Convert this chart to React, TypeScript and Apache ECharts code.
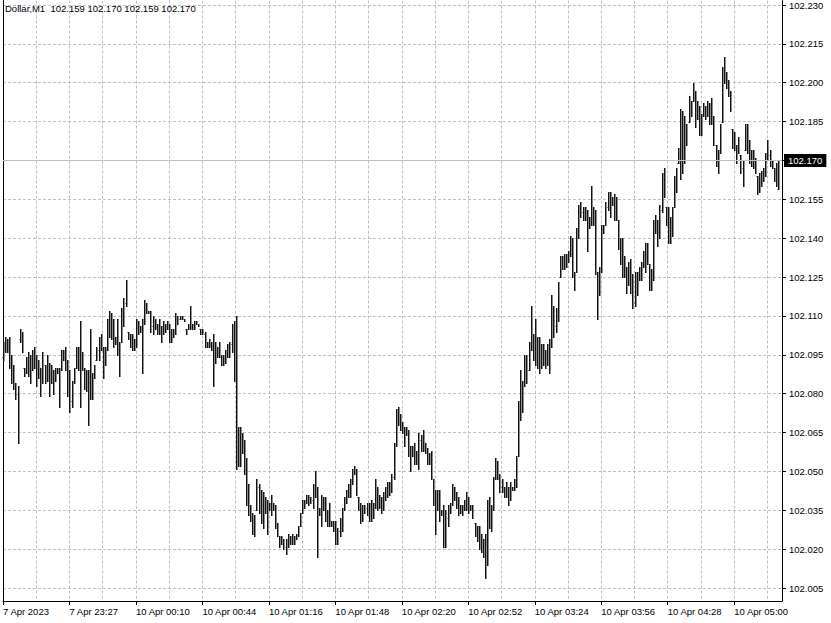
import React, { useEffect, useRef } from "react";
import * as echarts from "echarts";

const symbolName = "Dollar";
const timeframe = "M1";

// time labels placed every 32 one-minute bars
const timeLabels = [
  "7 Apr 2023", "7 Apr 23:27", "10 Apr 00:10", "10 Apr 00:44", "10 Apr 01:16", "10 Apr 01:48",
  "10 Apr 02:20", "10 Apr 02:52", "10 Apr 03:24", "10 Apr 03:56", "10 Apr 04:28", "10 Apr 05:00",
];
const barsPerLabel = 32;
const barsPerGridLine = 16;
const slotCount = 376; // bar slots on the time axis (incl. empty shift on the right)

const priceTicks = [
  102.005, 102.02, 102.035, 102.05, 102.065, 102.08, 102.095, 102.11,
  102.125, 102.14, 102.155, 102.17, 102.185, 102.2, 102.215, 102.23,
];
const priceMin = 102.0;
const priceMax = 102.2317;

// [open, high, low, close]
const ohlc: number[][] = [
  [102.094,102.100,102.093,102.099],[102.099,102.102,102.096,102.097],[102.097,102.101,102.096,102.100],[102.100,102.102,102.090,102.091],
  [102.091,102.095,102.084,102.085],[102.085,102.091,102.082,102.083],[102.083,102.084,102.078,102.080],[102.080,102.083,102.061,102.082],
  [102.101,102.105,102.100,102.103],[102.103,102.104,102.096,102.097],[102.090,102.090,102.087,102.088],[102.088,102.094,102.088,102.093],
  [102.093,102.096,102.087,102.088],[102.088,102.095,102.084,102.094],[102.094,102.097,102.089,102.096],[102.096,102.098,102.090,102.091],
  [102.091,102.095,102.083,102.085],[102.086,102.093,102.086,102.089],[102.089,102.090,102.079,102.080],[102.084,102.096,102.084,102.094],
  [102.091,102.091,102.084,102.086],[102.086,102.095,102.085,102.093],[102.092,102.092,102.079,102.081],[102.084,102.091,102.084,102.089],
  [102.089,102.089,102.080,102.082],[102.085,102.090,102.085,102.089],[102.089,102.090,102.088,102.088],[102.088,102.090,102.075,102.087],
  [102.089,102.097,102.089,102.096],[102.096,102.097,102.093,102.094],[102.094,102.098,102.089,102.091],[102.091,102.093,102.079,102.081],
  [102.081,102.089,102.073,102.077],[102.077,102.085,102.075,102.084],[102.084,102.090,102.084,102.089],[102.090,102.098,102.090,102.097],
  [102.097,102.098,102.089,102.092],[102.092,102.108,102.075,102.094],[102.094,102.096,102.089,102.090],[102.090,102.090,102.082,102.084],
  [102.084,102.089,102.081,102.087],[102.087,102.089,102.068,102.078],[102.078,102.105,102.078,102.086],[102.086,102.088,102.078,102.087],
  [102.087,102.091,102.086,102.090],[102.093,102.098,102.093,102.097],[102.097,102.102,102.093,102.100],[102.100,102.103,102.097,102.098],
  [102.098,102.098,102.086,102.089],[102.091,102.098,102.091,102.097],[102.097,102.109,102.097,102.107],[102.107,102.112,102.102,102.104],
  [102.104,102.111,102.101,102.108],[102.108,102.109,102.098,102.100],[102.100,102.102,102.099,102.101],[102.101,102.109,102.095,102.097],
  [102.097,102.100,102.087,102.099],[102.100,102.113,102.100,102.111],[102.111,102.117,102.106,102.115],[102.115,102.124,102.114,102.114],
  [102.104,102.104,102.101,102.102],[102.102,102.103,102.098,102.099],[102.099,102.103,102.097,102.101],[102.101,102.101,102.097,102.098],
  [102.098,102.109,102.098,102.107],[102.107,102.108,102.103,102.104],[102.104,102.106,102.104,102.105],[102.105,102.109,102.088,102.107],
  [102.107,102.116,102.107,102.114],[102.114,102.115,102.111,102.112],[102.112,102.112,102.111,102.111],[102.111,102.112,102.104,102.106],
  [102.106,102.110,102.103,102.108],[102.108,102.109,102.105,102.106],[102.106,102.107,102.103,102.104],[102.104,102.109,102.103,102.107],
  [102.106,102.106,102.100,102.102],[102.103,102.108,102.103,102.107],[102.107,102.107,102.104,102.105],[102.105,102.108,102.105,102.107],
  [102.107,102.107,102.100,102.101],[102.101,102.105,102.100,102.104],[102.104,102.105,102.102,102.103],[102.103,102.111,102.103,102.109],
  [102.109,102.110,102.107,102.109],[102.109,102.110,102.109,102.110],[102.110,102.110,102.109,102.109],[102.109,102.109,102.108,102.108],
  [102.105,102.105,102.103,102.104],[102.105,102.107,102.105,102.106],[102.106,102.114,102.105,102.107],[102.107,102.107,102.105,102.106],
  [102.106,102.108,102.105,102.107],[102.107,102.108,102.107,102.108],[102.107,102.107,102.106,102.106],[102.105,102.105,102.103,102.104],
  [102.104,102.105,102.103,102.103],[102.103,102.104,102.098,102.099],[102.099,102.100,102.098,102.099],[102.099,102.101,102.098,102.100],
  [102.100,102.100,102.097,102.098],[102.098,102.103,102.083,102.096],[102.096,102.100,102.092,102.094],[102.094,102.098,102.094,102.097],
  [102.097,102.100,102.094,102.095],[102.095,102.095,102.091,102.092],[102.092,102.095,102.091,102.094],[102.094,102.097,102.092,102.096],
  [102.096,102.099,102.094,102.098],[102.098,102.100,102.094,102.099],[102.099,102.107,102.096,102.105],[102.105,102.108,102.085,102.107],
  [102.107,102.110,102.051,102.055],[102.055,102.067,102.052,102.064],[102.064,102.067,102.052,102.060],[102.060,102.065,102.057,102.058],
  [102.058,102.062,102.049,102.051],[102.051,102.055,102.037,102.040],[102.040,102.045,102.033,102.035],[102.035,102.037,102.031,102.032],
  [102.032,102.034,102.026,102.028],[102.028,102.033,102.025,102.031],[102.035,102.047,102.035,102.044],[102.044,102.045,102.034,102.037],
  [102.037,102.043,102.030,102.039],[102.039,102.042,102.028,102.033],[102.034,102.040,102.034,102.038],[102.038,102.039,102.026,102.035],
  [102.035,102.038,102.035,102.037],[102.037,102.041,102.033,102.036],[102.036,102.038,102.035,102.037],[102.037,102.037,102.028,102.030],
  [102.030,102.030,102.025,102.026],[102.025,102.025,102.021,102.023],[102.023,102.025,102.022,102.024],[102.024,102.024,102.020,102.021],
  [102.021,102.024,102.018,102.022],[102.022,102.026,102.021,102.025],[102.025,102.025,102.022,102.023],[102.023,102.026,102.022,102.025],
  [102.025,102.025,102.022,102.023],[102.024,102.026,102.024,102.025],[102.025,102.029,102.025,102.028],[102.029,102.034,102.029,102.033],
  [102.034,102.039,102.034,102.038],[102.038,102.039,102.036,102.037],[102.038,102.041,102.038,102.040],[102.040,102.041,102.037,102.038],
  [102.038,102.040,102.038,102.039],[102.039,102.045,102.036,102.043],[102.043,102.050,102.040,102.042],[102.042,102.044,102.017,102.034],
  [102.034,102.036,102.033,102.035],[102.035,102.041,102.029,102.039],[102.039,102.040,102.035,102.036],[102.036,102.040,102.031,102.033],
  [102.033,102.035,102.029,102.031],[102.031,102.038,102.029,102.030],[102.030,102.031,102.029,102.030],[102.030,102.031,102.027,102.028],
  [102.028,102.031,102.022,102.024],[102.024,102.028,102.022,102.027],[102.027,102.032,102.025,102.031],[102.031,102.036,102.027,102.035],
  [102.035,102.040,102.035,102.039],[102.039,102.043,102.038,102.042],[102.042,102.045,102.040,102.044],[102.044,102.047,102.040,102.046],
  [102.046,102.051,102.045,102.050],[102.050,102.052,102.049,102.051],[102.051,102.051,102.041,102.042],[102.040,102.040,102.035,102.036],
  [102.036,102.038,102.030,102.032],[102.032,102.037,102.031,102.035],[102.035,102.037,102.034,102.036],[102.036,102.038,102.033,102.034],
  [102.034,102.038,102.031,102.036],[102.036,102.039,102.031,102.033],[102.033,102.038,102.032,102.037],[102.037,102.047,102.036,102.044],
  [102.044,102.044,102.035,102.037],[102.037,102.041,102.036,102.039],[102.039,102.040,102.034,102.036],[102.036,102.042,102.035,102.041],
  [102.041,102.044,102.039,102.042],[102.042,102.046,102.040,102.045],[102.045,102.046,102.041,102.043],[102.043,102.049,102.042,102.048],
  [102.048,102.061,102.047,102.060],[102.060,102.074,102.060,102.072],[102.072,102.075,102.068,102.070],[102.070,102.072,102.066,102.068],
  [102.068,102.069,102.065,102.066],[102.066,102.067,102.060,102.064],[102.064,102.067,102.064,102.065],[102.065,102.066,102.056,102.058],
  [102.058,102.060,102.050,102.056],[102.056,102.060,102.056,102.058],[102.058,102.061,102.053,102.055],[102.055,102.058,102.053,102.056],
  [102.056,102.065,102.051,102.062],[102.062,102.064,102.058,102.060],[102.060,102.066,102.058,102.061],[102.061,102.061,102.057,102.058],
  [102.058,102.059,102.053,102.055],[102.055,102.057,102.053,102.056],[102.056,102.058,102.047,102.048],[102.047,102.047,102.037,102.039],
  [102.039,102.043,102.026,102.040],[102.040,102.043,102.035,102.036],[102.036,102.043,102.031,102.034],[102.034,102.035,102.033,102.034],
  [102.034,102.037,102.021,102.024],[102.024,102.035,102.021,102.032],[102.032,102.037,102.029,102.035],[102.035,102.038,102.034,102.037],
  [102.037,102.045,102.037,102.043],[102.043,102.044,102.039,102.040],[102.040,102.042,102.036,102.038],[102.038,102.040,102.033,102.035],
  [102.035,102.037,102.034,102.036],[102.036,102.037,102.033,102.035],[102.035,102.039,102.035,102.038],[102.038,102.042,102.035,102.037],
  [102.037,102.040,102.034,102.036],[102.036,102.037,102.035,102.035],[102.035,102.037,102.032,102.033],[102.030,102.030,102.025,102.027],
  [102.027,102.029,102.023,102.025],[102.025,102.029,102.020,102.022],[102.022,102.026,102.019,102.021],[102.021,102.024,102.017,102.019],
  [102.019,102.026,102.009,102.016],[102.016,102.039,102.014,102.036],[102.036,102.040,102.028,102.030],[102.030,102.037,102.027,102.035],
  [102.035,102.048,102.035,102.047],[102.047,102.055,102.047,102.052],[102.052,102.054,102.047,102.049],[102.049,102.049,102.042,102.044],
  [102.044,102.047,102.042,102.045],[102.044,102.044,102.040,102.042],[102.042,102.046,102.040,102.044],[102.044,102.044,102.037,102.040],
  [102.040,102.046,102.039,102.044],[102.044,102.044,102.043,102.043],[102.043,102.047,102.043,102.046],[102.046,102.056,102.044,102.055],
  [102.056,102.077,102.056,102.075],[102.075,102.089,102.070,102.082],[102.082,102.085,102.073,102.076],[102.083,102.095,102.083,102.093],
  [102.093,102.095,102.084,102.088],[102.089,102.100,102.089,102.098],[102.098,102.114,102.097,102.100],[102.100,102.103,102.093,102.095],
  [102.095,102.109,102.091,102.100],[102.100,102.102,102.090,102.093],[102.093,102.102,102.088,102.096],[102.096,102.099,102.090,102.092],
  [102.092,102.099,102.091,102.097],[102.097,102.097,102.090,102.092],[102.092,102.099,102.091,102.096],[102.096,102.101,102.088,102.099],
  [102.099,102.118,102.098,102.112],[102.112,102.114,102.102,102.106],[102.106,102.113,102.104,102.111],[102.111,102.123,102.108,102.121],
  [102.125,102.133,102.125,102.130],[102.130,102.133,102.128,102.131],[102.131,102.134,102.128,102.129],[102.129,102.134,102.129,102.133],
  [102.133,102.135,102.131,102.132],[102.133,102.141,102.133,102.139],[102.139,102.140,102.125,102.127],[102.127,102.127,102.120,102.124],
  [102.127,102.144,102.127,102.142],[102.142,102.153,102.140,102.151],[102.151,102.154,102.148,102.150],[102.150,102.152,102.147,102.149],
  [102.149,102.152,102.147,102.150],[102.150,102.151,102.135,102.146],[102.146,102.148,102.144,102.147],[102.147,102.160,102.145,102.148],
  [102.148,102.152,102.145,102.150],[102.150,102.151,102.126,102.128],[102.127,102.127,102.109,102.119],[102.119,102.129,102.118,102.128],
  [102.128,102.145,102.127,102.143],[102.143,102.145,102.142,102.144],[102.145,102.154,102.145,102.152],[102.152,102.158,102.151,102.156],
  [102.156,102.158,102.148,102.150],[102.153,102.156,102.153,102.155],[102.155,102.157,102.147,102.150],[102.150,102.156,102.147,102.148],
  [102.147,102.147,102.136,102.138],[102.138,102.140,102.130,102.134],[102.134,102.140,102.125,102.127],[102.127,102.133,102.125,102.130],
  [102.129,102.129,102.119,102.121],[102.122,102.131,102.122,102.129],[102.129,102.132,102.119,102.121],[102.121,102.126,102.113,102.115],
  [102.115,102.127,102.114,102.124],[102.124,102.127,102.118,102.120],[102.124,102.129,102.124,102.128],[102.128,102.131,102.124,102.126],
  [102.129,102.135,102.129,102.134],[102.134,102.138,102.127,102.130],[102.130,102.138,102.130,102.136],[102.130,102.130,102.120,102.122],
  [102.122,102.128,102.120,102.126],[102.126,102.147,102.124,102.144],[102.144,102.149,102.142,102.143],[102.143,102.147,102.137,102.139],
  [102.140,102.153,102.140,102.151],[102.151,102.165,102.150,102.163],[102.163,102.167,102.156,102.158],[102.152,102.152,102.145,102.148],
  [102.148,102.152,102.138,102.141],[102.141,102.148,102.138,102.146],[102.146,102.152,102.141,102.150],[102.152,102.164,102.152,102.162],
  [102.162,102.167,102.158,102.166],[102.169,102.175,102.169,102.173],[102.173,102.190,102.163,102.186],[102.186,102.189,102.165,102.168],
  [102.169,102.187,102.169,102.184],[102.184,102.184,102.176,102.180],[102.185,102.195,102.185,102.193],[102.193,102.193,102.187,102.189],
  [102.193,102.200,102.193,102.197],[102.197,102.197,102.183,102.186],[102.186,102.193,102.186,102.191],[102.191,102.191,102.180,102.182],
  [102.182,102.188,102.180,102.187],[102.187,102.192,102.187,102.190],[102.190,102.191,102.186,102.188],[102.188,102.193,102.187,102.191],
  [102.191,102.192,102.184,102.186],[102.186,102.194,102.184,102.188],[102.187,102.187,102.176,102.178],[102.176,102.176,102.168,102.170],
  [102.170,102.174,102.165,102.172],[102.173,102.184,102.173,102.183],[102.185,102.206,102.185,102.203],[102.203,102.210,102.200,102.201],
  [102.201,102.204,102.198,102.200],[102.200,102.201,102.195,102.196],[102.196,102.197,102.189,102.190],[102.182,102.182,102.175,102.177],
  [102.177,102.181,102.174,102.175],[102.175,102.176,102.169,102.172],[102.173,102.179,102.173,102.174],[102.172,102.172,102.165,102.167],
  [102.167,102.170,102.160,102.168],[102.174,102.184,102.174,102.182],[102.182,102.184,102.173,102.175],[102.175,102.178,102.169,102.171],
  [102.171,102.174,102.168,102.170],[102.170,102.174,102.167,102.168],[102.168,102.171,102.165,102.166],[102.164,102.164,102.157,102.159],
  [102.159,102.165,102.158,102.163],[102.163,102.166,102.160,102.162],[102.162,102.167,102.162,102.166],[102.166,102.173,102.164,102.171],
  [102.171,102.178,102.170,102.172],[102.172,102.174,102.168,102.169],[102.169,102.170,102.167,102.168],[102.167,102.167,102.162,102.163],
  [102.163,102.169,102.160,102.160],[102.159,102.170,102.159,102.170],
];

const FONT = "'Liberation Sans', Arial, sans-serif";
const BAR_COLOR = "#141414";
const BAR_SHADE = "#8c8c8c";

export default function App() {
  const ref = useRef<HTMLDivElement>(null);

  useEffect(() => {
    if (!ref.current) return;
    const chart = echarts.init(ref.current, null, { renderer: "svg" });
    const last = ohlc[ohlc.length - 1];
    const lastClose = last[3];
    const categories = Array.from({ length: slotCount }, (_, i) => String(i));
    const data = ohlc.map((b, i) => [i, b[0], b[1], b[2], b[3]]);

    const renderItem = (_params: any, api: any) => {
      const idx = api.value(0);
      const x = api.coord([idx, api.value(2)])[0];
      const yO = Math.round(api.coord([idx, api.value(1)])[1]);
      const yH = Math.round(api.coord([idx, api.value(2)])[1]);
      const yL = Math.round(api.coord([idx, api.value(3)])[1]);
      const yC = Math.round(api.coord([idx, api.value(4)])[1]);
      const col = Math.round(x);
      const dark = { stroke: BAR_COLOR, lineWidth: 1, fill: null };
      const shade = { stroke: BAR_SHADE, lineWidth: 1, fill: null };
      return {
        type: "group",
        children: [
          { type: "line", shape: { x1: col + 1.5, y1: yH, x2: col + 1.5, y2: yL + 1 }, style: shade },
          { type: "line", shape: { x1: col - 1, y1: yO + 0.5, x2: col, y2: yO + 0.5 }, style: shade },
          { type: "line", shape: { x1: col + 1, y1: yC + 0.5, x2: col + 2, y2: yC + 0.5 }, style: shade },
          { type: "line", shape: { x1: col + 0.5, y1: yH, x2: col + 0.5, y2: yL + 1 }, style: dark },
        ],
      };
    };

    chart.setOption({
      animation: false,
      backgroundColor: "#ffffff",
      title: {
        text: `${symbolName},${timeframe}  ${last.map((v) => v.toFixed(3)).join(" ")}`,
        left: 5,
        top: 3,
        padding: 0,
        textStyle: { fontFamily: FONT, fontSize: 9.5, fontWeight: "normal", color: "#000" },
      },
      grid: { left: 3, right: 49, top: 0, bottom: 22, containLabel: false },
      xAxis: {
        type: "category",
        data: categories,
        boundaryGap: false,
        axisLine: { show: true, lineStyle: { color: "#000", width: 1 } },
        axisTick: {
          show: true,
          interval: (i: number) => i % barsPerLabel === 0,
          length: 4,
          lineStyle: { color: "#000" },
        },
        axisLabel: {
          interval: (i: number) => i % barsPerLabel === 0,
          formatter: (_v: string, i: number) => timeLabels[i / barsPerLabel] ?? "",
          align: "left",
          margin: 5,
          fontFamily: FONT,
          fontSize: 9.5,
          color: "#000",
        },
        splitLine: {
          show: true,
          interval: (i: number) => i % barsPerGridLine === 0,
          lineStyle: { color: "#c0c0c0", type: [3, 2], width: 1 },
        },
      },
      yAxis: [
        {
          type: "value",
          position: "right",
          min: priceMin,
          max: priceMax,
          axisLine: { show: true, lineStyle: { color: "#000", width: 1 } },
          axisTick: { show: true, customValues: priceTicks, length: 4, lineStyle: { color: "#000" } },
          axisLabel: {
            customValues: priceTicks,
            formatter: (v: number) => (Math.abs(v - lastClose) < 1e-6 ? "" : v.toFixed(3)),
            margin: 7,
            fontFamily: FONT,
            fontSize: 9.5,
            color: "#000",
          },
          splitLine: { show: true, lineStyle: { color: "#c0c0c0", type: [3, 2], width: 1 } },
        },
        {
          type: "value",
          position: "left",
          min: priceMin,
          max: priceMax,
          axisLine: { show: true, lineStyle: { color: "#000", width: 1 } },
          axisTick: { show: false },
          axisLabel: { show: false },
          splitLine: { show: false },
        },
      ],
      series: [
        {
          type: "custom",
          name: "Dollar",
          renderItem,
          data,
          encode: { x: 0, y: [1, 2, 3, 4] },
          markLine: {
            silent: true,
            symbol: "none",
            animation: false,
            lineStyle: { color: "#c0c0c0", type: "solid", width: 1 },
            emphasis: { disabled: true },
            label: {
              show: true,
              position: "end",
              distance: 2,
              formatter: lastClose.toFixed(3),
              backgroundColor: "#000",
              color: "#fff",
              padding: [2, 4, 1, 4],
              fontFamily: FONT,
              fontSize: 9.5,
            },
            data: [{ yAxis: lastClose }],
          },
        },
      ],
    });

    return () => chart.dispose();
  }, []);

  return (
    <div
      ref={ref}
      style={{ position: "fixed", left: 0, top: 0, width: 831, height: 623, background: "#fff" }}
    />
  );
}
